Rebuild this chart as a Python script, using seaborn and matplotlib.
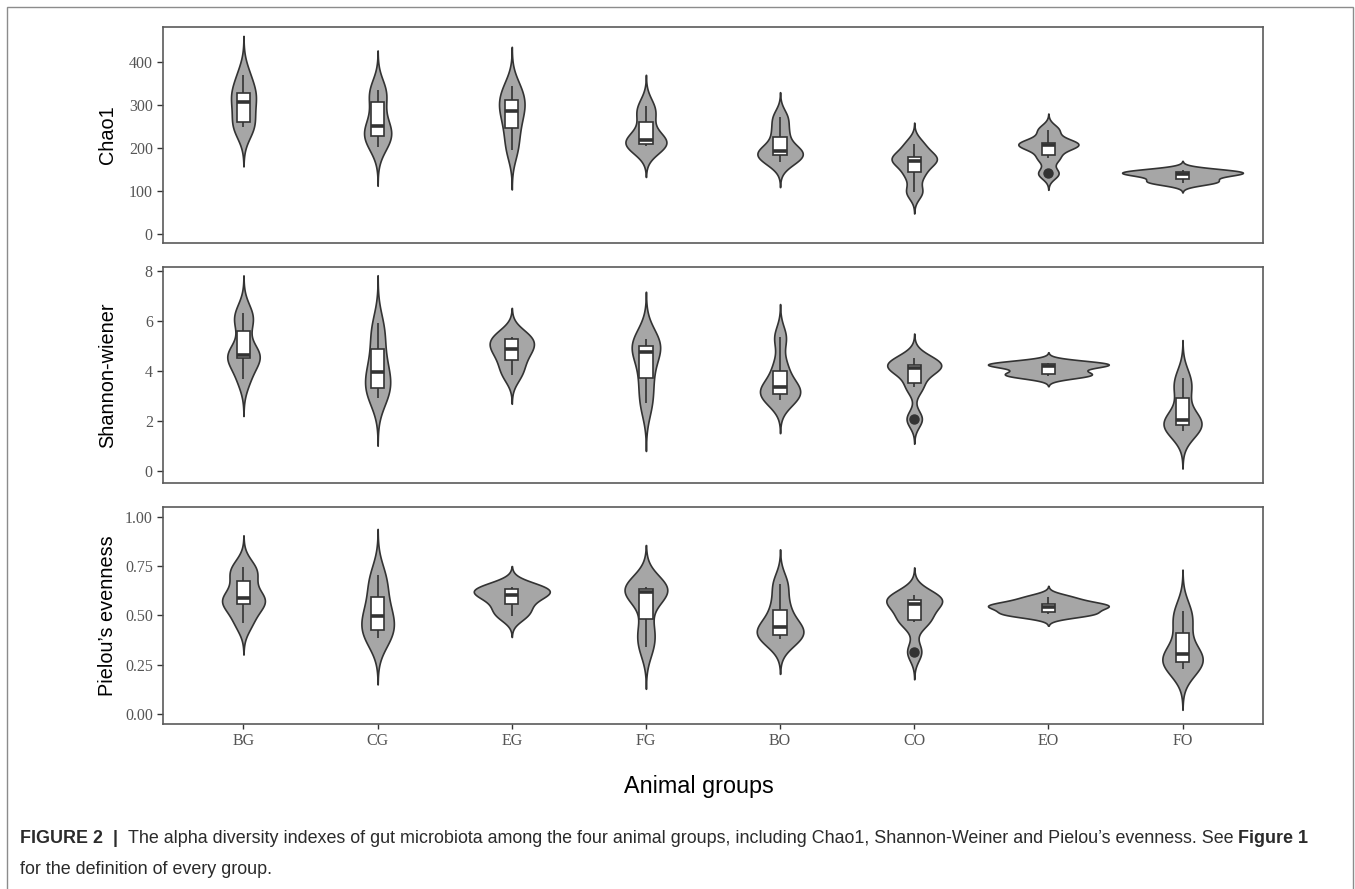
import numpy as np
import pandas as pd
import matplotlib
matplotlib.use("Agg")
import matplotlib.pyplot as plt
import seaborn as sns
from matplotlib.patches import Rectangle

groups = ["BG", "CG", "EG", "FG", "BO", "CO", "EO", "FO"]

chao1 = [
    [248, 250, 290, 322, 329, 370],
    [203, 222, 230, 245, 257, 300, 332, 336],
    [195, 238, 275, 297, 317, 344],
    [205, 207, 214, 224, 272, 298],
    [168, 182, 190, 198, 235, 271],
    [98, 138, 165, 175, 182, 209],
    [141, 177, 204, 210, 211, 242],
    [119, 124, 137, 141, 145, 148],
]
shannon = [
    [3.69, 4.51, 4.60, 4.70, 5.89, 6.32],
    [2.93, 3.10, 3.41, 3.85, 4.03, 4.70, 5.38, 5.90],
    [3.83, 4.31, 4.80, 4.94, 5.36, 5.37],
    [2.70, 3.70, 4.74, 5.00, 5.26],
    [2.84, 2.98, 3.30, 3.44, 4.19, 5.34],
    [2.08, 3.37, 4.00, 4.20, 4.24, 4.50],
    [3.80, 3.82, 3.95, 4.19, 4.24, 4.28, 4.33],
    [1.60, 1.79, 1.98, 2.10, 3.17, 3.73],
]
pielou = [
    [0.463, 0.550, 0.575, 0.597, 0.696, 0.743],
    [0.383, 0.408, 0.480, 0.514, 0.618, 0.704],
    [0.497, 0.543, 0.595, 0.611, 0.639, 0.642],
    [0.341, 0.436, 0.612, 0.628, 0.633, 0.642],
    [0.378, 0.390, 0.430, 0.456, 0.547, 0.659],
    [0.315, 0.468, 0.484, 0.557, 0.570, 0.586, 0.603],
    [0.505, 0.507, 0.540, 0.548, 0.559, 0.591],
    [0.228, 0.257, 0.290, 0.314, 0.445, 0.524],
]

metric_labels = ["Chao1", "Shannon-wiener", "Pielou\u2019s evenness"]
y_ticks = [[0, 100, 200, 300, 400], [0, 2, 4, 6, 8], [0, 0.25, 0.5, 0.75, 1.0]]
y_ticklabels = [["0", "100", "200", "300", "400"],
                ["0", "2", "4", "6", "8"],
                ["0.00", "0.25", "0.50", "0.75", "1.00"]]
y_limits = [(-20, 482), (-0.49, 8.16), (-0.051, 1.047)]


def nrd0(kde):
    # R's default bandwidth (bw.nrd0), as used by geom_violin
    x = kde.dataset[0]
    sd = np.std(x, ddof=1)
    q75, q25 = np.percentile(x, [75, 25])
    h = 0.9 * min(sd, (q75 - q25) / 1.34) * len(x) ** -0.2
    return h / sd


def long_form(values):
    rows = [(g, v) for g, vals in zip(groups, values) for v in vals]
    return pd.DataFrame(rows, columns=["group", "value"])


sns.set_theme(style="ticks")
plt.rcParams["font.family"] = ["Liberation Sans", "DejaVu Sans"]

W, H = 1355, 889
fig = plt.figure(figsize=(W / 100, H / 100), dpi=100)

# panel boxes in pixels: (top, bottom)
panel_px = [(26.7, 242.7), (266.7, 483.3), (507.3, 724.0)]
left_px, right_px = 163, 1263

dark = "#333333"
for i, (vals, label) in enumerate(zip([chao1, shannon, pielou], metric_labels)):
    top, bottom = panel_px[i]
    ax = fig.add_axes([left_px / W, 1 - bottom / H, (right_px - left_px) / W, (bottom - top) / H])
    df = long_form(vals)
    sns.violinplot(data=df, x="group", y="value", order=groups, color="#A6A6A6",
                   saturation=1, inner=None, cut=3, bw_method=nrd0, gridsize=512,
                   density_norm="area", width=0.9, linewidth=1.2, linecolor=dark, ax=ax)
    sns.boxplot(data=df, x="group", y="value", order=groups, width=0.1, color="white",
                saturation=1, linecolor=dark, linewidth=1.2, fliersize=6.5,
                flierprops=dict(marker="o", markerfacecolor=dark, markeredgecolor=dark),
                medianprops=dict(linewidth=2.6, color=dark),
                capprops=dict(linewidth=0), ax=ax)

    ax.set_xlim(-0.6, 7.6)
    ax.set_ylim(*y_limits[i])
    ax.set_yticks(y_ticks[i])
    ax.set_yticklabels(y_ticklabels[i])
    ax.set_xlabel("")
    ax.set_ylabel(label, fontsize=14.3, color="black")
    ax.yaxis.set_label_coords(-0.042, 0.5)
    for sp in ax.spines.values():
        sp.set_visible(True)
        sp.set_color("#5a5a5a")
        sp.set_linewidth(1.2)
    ax.tick_params(axis="y", left=True, length=4.3, width=1, color=dark, pad=3,
                   labelsize=11.5, labelcolor="#555555")
    if i < 2:
        ax.tick_params(axis="x", bottom=False, labelbottom=False)
    else:
        ax.tick_params(axis="x", bottom=True, length=3.8, width=1, color=dark, pad=3,
                       labelsize=11.5, labelcolor="#555555")
    for t in ax.get_xticklabels() + ax.get_yticklabels():
        t.set_family("Liberation Serif")

fig.text(699 / W, 1 - 787 / H, "Animal groups", ha="center", va="center",
         fontsize=16.8, color="black")

# outer page frame
fig.patches.append(Rectangle((7 / W, -0.01), (1353 - 7) / W, 1.01 - 7 / H,
                             transform=fig.transFigure, fill=False,
                             edgecolor="#8c8c8c", linewidth=1.0))

# caption with bold runs
renderer = fig.canvas.get_renderer()


def draw_runs(x_px, y_px, runs, size=12.9):
    x = x_px / W
    for s, weight in runs:
        t = fig.text(x, 1 - y_px / H, s, fontsize=size, fontweight=weight,
                     color="#2b2b2b", ha="left", va="baseline")
        x += t.get_window_extent(renderer=renderer).width / fig.bbox.width


draw_runs(20, 843, [("FIGURE 2", "bold"), ("  |  ", "bold"),
                    ("The alpha diversity indexes of gut microbiota among the four animal groups, "
                     "including Chao1, Shannon-Weiner and Pielou\u2019s evenness. See ", "normal"),
                    ("Figure 1", "bold")])
draw_runs(20, 874, [("for the definition of every group.", "normal")])

fig.savefig("out.png", dpi=100)
